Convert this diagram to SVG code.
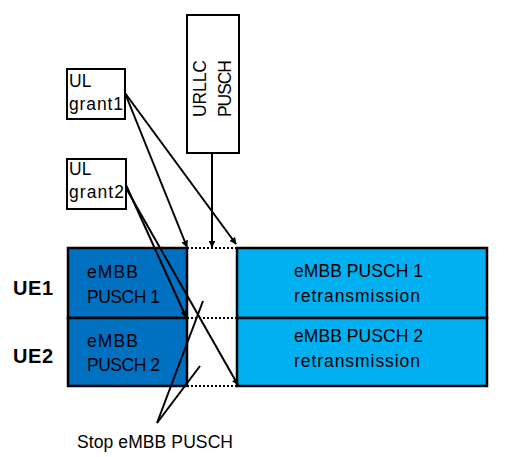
<svg xmlns="http://www.w3.org/2000/svg" width="507" height="457" viewBox="0 0 507 457">
<style>
text{font-family:"Liberation Sans",Arial,sans-serif;font-size:17.5px;fill:#000}
.box{fill:#fff;stroke:#000;stroke-width:2}
.dark{fill:#0070c0;stroke:#000;stroke-width:2.5}
.light{fill:#00b0f0;stroke:#000;stroke-width:2.5}
.ln{stroke:#000;stroke-width:2;fill:none}
.dot{stroke:#000;stroke-width:2;stroke-dasharray:2,2;fill:none}
.ue{font-weight:bold;font-size:20px}
</style>
<defs>
<marker id="ah" viewBox="0 0 10 10" refX="9" refY="5" markerWidth="7" markerHeight="7" orient="auto" markerUnits="userSpaceOnUse">
<path d="M0,0L10,5L0,10z" fill="#000"/>
</marker>
</defs>
<rect width="507" height="457" fill="#fff"/>
<g id="ue1-label"><text class="ue" x="13" y="295" textLength="40">UE1</text></g>
<g id="ue2-label"><text class="ue" x="13" y="363" textLength="40">UE2</text></g>
<g id="embb1"><rect class="dark" x="68" y="248" width="119" height="70"/><text x="87" y="278" textLength="51">eMBB</text><text x="87" y="303" textLength="73">PUSCH 1</text></g>
<g id="embb2"><rect class="dark" x="68" y="318" width="119" height="68"/><text x="87" y="347" textLength="51">eMBB</text><text x="87" y="371" textLength="73">PUSCH 2</text></g>
<g id="retx1"><rect class="light" x="237" y="248" width="250" height="70"/><text x="294" y="277" textLength="129">eMBB PUSCH 1</text><text x="294" y="302" textLength="126">retransmission</text></g>
<g id="retx2"><rect class="light" x="237" y="318" width="250" height="68"/><text x="294" y="342" textLength="129">eMBB PUSCH 2</text><text x="294" y="367" textLength="126">retransmission</text></g>
<g id="gap"><path class="dot" d="M187,248H237M187,318H237M187,386H237"/></g>
<g id="ulgrant1"><rect class="box" x="67" y="69" width="58" height="50"/><text x="69" y="87">UL</text><text x="69" y="110" textLength="54">grant1</text></g>
<g id="ulgrant2"><rect class="box" x="67" y="159" width="59" height="50"/><text x="69" y="175">UL</text><text x="69" y="198" textLength="55">grant2</text></g>
<g id="urllc"><rect class="box" x="187" y="15" width="52" height="138"/><text transform="translate(206,117) rotate(-90)" textLength="57">URLLC</text><text transform="translate(231,117) rotate(-90)" textLength="57">PUSCH</text></g>
<g id="stop-label"><text x="77" y="448" textLength="156">Stop eMBB PUSCH</text></g>
<g id="connectors">
<line class="ln" x1="212" y1="153" x2="212" y2="247" marker-end="url(#ah)"/>
<line class="ln" x1="125" y1="93" x2="187" y2="247" marker-end="url(#ah)"/>
<line class="ln" x1="125" y1="93" x2="236" y2="244" marker-end="url(#ah)"/>
<line class="ln" x1="126" y1="185" x2="186" y2="317" marker-end="url(#ah)"/>
<line class="ln" x1="126" y1="188" x2="238" y2="385" marker-end="url(#ah)"/>
<line class="ln" x1="157" y1="423" x2="203" y2="301"/>
<line class="ln" x1="157" y1="423" x2="200" y2="366"/>
</g>
</svg>
